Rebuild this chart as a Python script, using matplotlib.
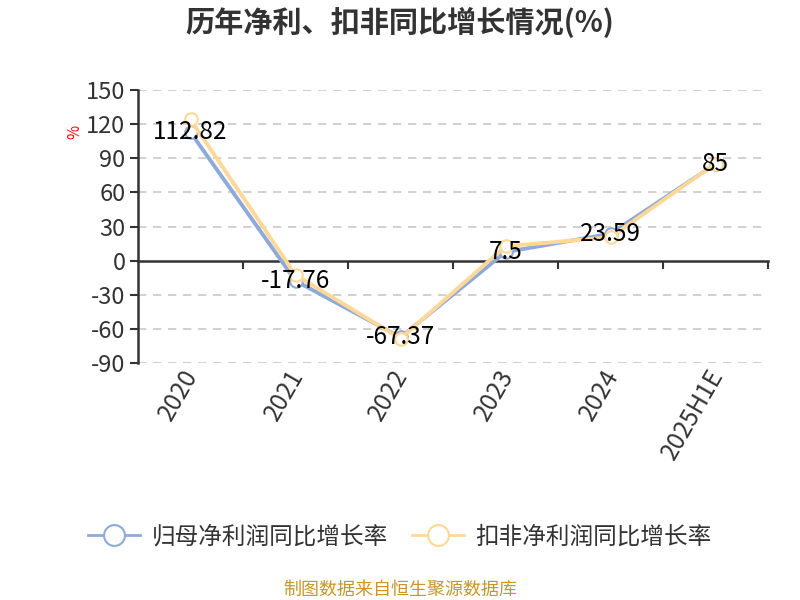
import matplotlib
matplotlib.use("Agg")
import matplotlib.pyplot as plt
from matplotlib.lines import Line2D

plt.rcParams['font.family'] = ['Noto Sans CJK SC', 'DejaVu Sans']

categories = ["2020", "2021", "2022", "2023", "2024", "2025H1E"]
net_profit_growth = [112.82, -17.76, -67.37, 7.5, 23.59, 85]
deducted_growth = [124.1, -12.6, -68.5, 12.6, 20.6, 85.3]
label_values = ["112.82", "-17.76", "-67.37", "7.5", "23.59", "85"]
series_names = ["归母净利润同比增长率", "扣非净利润同比增长率"]
yticks = [-90, -60, -30, 0, 30, 60, 90, 120, 150]

BLUE = "#8eaadb"
ORANGE = "#ffd898"
TXT = "#333333"

fig = plt.figure(figsize=(8, 6), dpi=100)
ax = fig.add_axes([0.1725, 0.395, 0.7875, 0.455])

x = list(range(len(categories)))
ax.plot(x, net_profit_growth, color=BLUE, lw=2.8, marker="o", ms=9,
        mfc="white", mec=BLUE, mew=1.5, zorder=3)
ax.plot(x, deducted_growth, color=ORANGE, lw=2.8, marker="o", ms=9,
        mfc="white", mec=ORANGE, mew=1.5, zorder=4)

for xi, v, s in zip(x, net_profit_growth, label_values):
    ax.text(xi, v, s, ha="center", va="center", fontsize=17.5,
            color="black", zorder=5)

ax.set_xlim(-0.5, len(categories) - 0.5)
ax.set_ylim(-90, 150)
ax.set_yticks(yticks)
ax.set_yticklabels([str(t) for t in yticks], fontsize=17, color=TXT)
ax.tick_params(axis="y", length=6, width=1.5, color=TXT, pad=3)

for t in yticks:
    if t != 0:
        ax.axhline(t, color="#c8c8c8", lw=1.2, ls=(0, (5, 4)), zorder=1)

for side in ["top", "right"]:
    ax.spines[side].set_visible(False)
ax.spines["left"].set_color(TXT)
ax.spines["left"].set_linewidth(1.8)
ax.spines["bottom"].set_position(("data", 0))
ax.spines["bottom"].set_color(TXT)
ax.spines["bottom"].set_linewidth(1.8)
ax.set_xticks([i + 0.5 for i in x])
ax.set_xticklabels([])
ax.tick_params(axis="x", length=6, width=1.5, color=TXT, direction="out")

for xi, c in zip(x, categories):
    ax.text(xi + 0.02, -0.03, c, transform=ax.get_xaxis_transform(),
            rotation=60, rotation_mode="anchor", ha="right", va="center",
            fontsize=17.5, color=TXT)

fig.text(0.094, 0.78, "%", color="red", fontsize=11, rotation=90,
         ha="center", va="center")

fig.text(0.5, 0.962, "历年净利、扣非同比增长情况(%)", ha="center", va="center",
         fontsize=21, fontweight="bold", color=TXT)

handles = [
    Line2D([0], [0], color=BLUE, lw=2, marker="o", ms=15, mfc="white",
           mec=BLUE, mew=1.5),
    Line2D([0], [0], color=ORANGE, lw=2, marker="o", ms=15, mfc="white",
           mec=ORANGE, mew=1.5),
]
fig.legend(handles, series_names, loc="center", bbox_to_anchor=(0.5, 0.105),
           ncol=2, frameon=False, fontsize=17, handlelength=2.2,
           columnspacing=1.0, handletextpad=0.5, labelcolor=TXT)

fig.text(0.5, 0.018, "制图数据来自恒生聚源数据库", ha="center", va="center",
         fontsize=13, color="#c8952a")

fig.savefig("out.png", dpi=100, facecolor="white")
